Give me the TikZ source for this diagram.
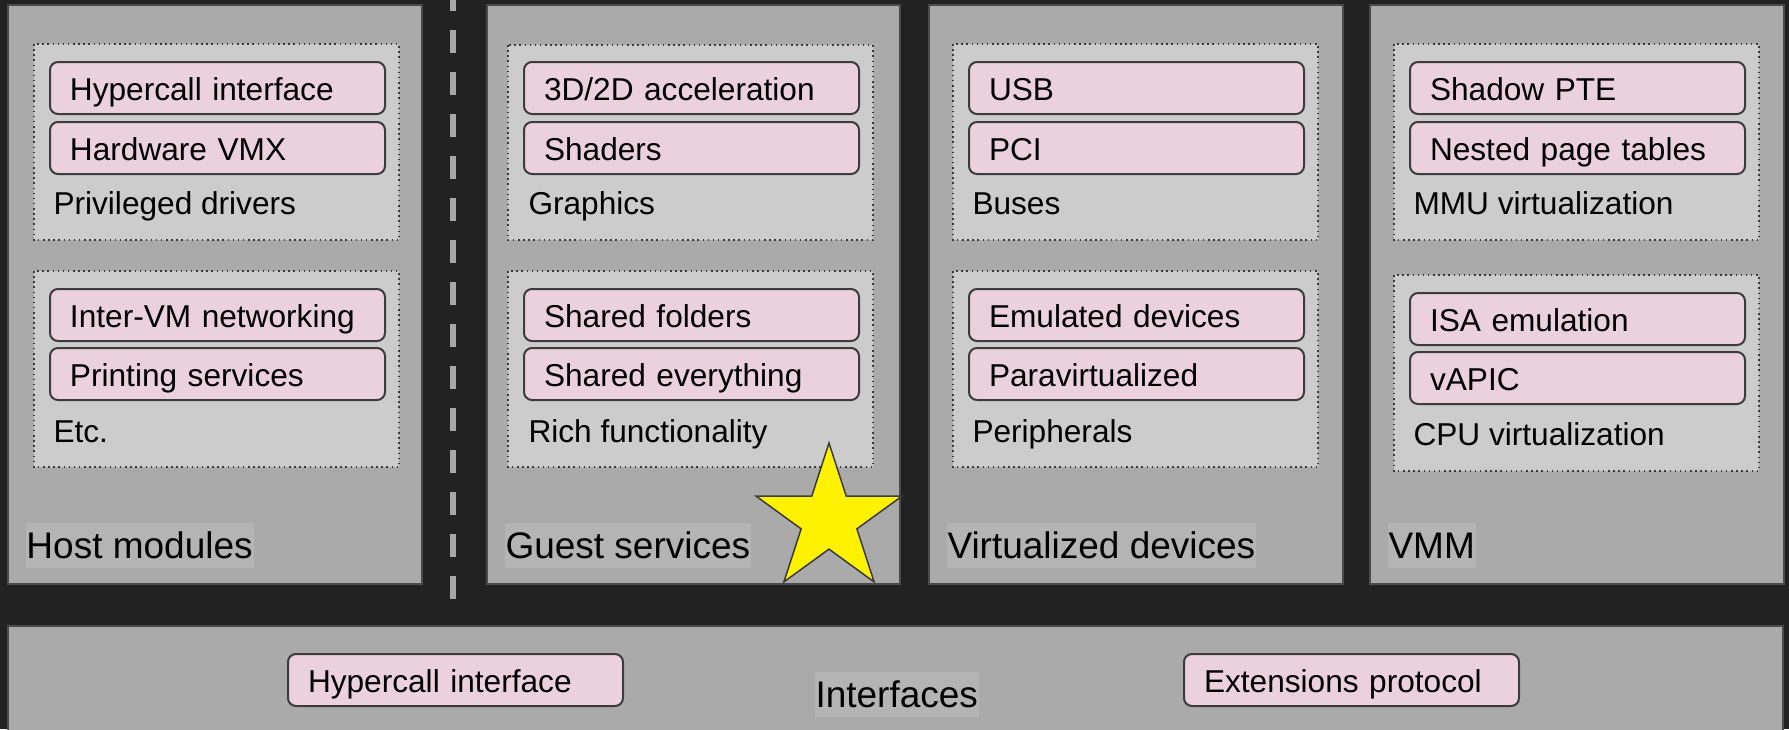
\documentclass[tikz,border=0pt]{standalone}
\usepackage{fontspec}
\setmainfont{Liberation Sans}
\usetikzlibrary{shapes.geometric}
\definecolor{bgdark}{HTML}{222222}
\definecolor{panelc}{HTML}{AAAAAA}
\definecolor{paneledge}{HTML}{4A4A4A}
\definecolor{dotfill}{HTML}{CCCCCC}
\definecolor{dotedge}{HTML}{3A3A3A}
\definecolor{pinkc}{HTML}{EAD1DC}
\definecolor{pinkedge}{HTML}{3C3C3C}
\definecolor{lblbg}{HTML}{B4B4B4}
\definecolor{dashc}{HTML}{A8A8A8}
\definecolor{staredge}{HTML}{3A3A3A}
\newcommand{\fsmall}{\fontsize{12.65}{15}\selectfont}
\newcommand{\fbig}{\fontsize{14.8}{17}\selectfont}
\begin{document}
\begin{tikzpicture}[x=0.4pt,y=-0.4pt,
  panel/.style={fill=panelc,draw=paneledge,line width=0.5pt},
  dotbox/.style={fill=dotfill,draw=dotedge,line width=0.6pt,dash pattern=on 0.6pt off 1.45pt},
  pinkbox/.style={anchor=north west,fill=pinkc,draw=pinkedge,line width=0.8pt,rounded corners=3.2pt,
    inner xsep=8pt,inner ysep=0pt,text height=15.2pt,text depth=5.6pt,text width=118pt,align=left,font=\fsmall},
  sublbl/.style={anchor=base west,inner sep=0pt,font=\fsmall},
  collbl/.style={anchor=base west,fill=lblbg,inner xsep=0.4pt,inner ysep=0pt,text height=14pt,text depth=4pt,font=\fbig},
  dashline/.style={draw=dashc,line width=2.4pt,dash pattern=on 9.2pt off 7.6pt}
]
\useasboundingbox (0,0) rectangle (1789,729);
\clip (0,0) rectangle (1789,729);
\fill[bgdark] (0,0) rectangle (1789,729);

% dashed separator
\coordinate (dtop) at (453,-12);
\coordinate (dbot) at (453,599);
\draw[dashline] (dtop) -- (dbot);

% column 1
\begin{scope}[shift={(8,0)}]
\path[panel] (0,5) rectangle (414,584);
\path[dotbox] (26,44) rectangle (391,240);
\node[pinkbox] (h1) at (41,61) {Hypercall interface};
\node[pinkbox] (h2) at (41,121) {Hardware VMX};
\node[sublbl] (hl1) at (45,214) {Privileged drivers};
\path[dotbox] (26,271) rectangle (391,467);
\node[pinkbox] (h3) at (41,288) {Inter-VM networking};
\node[pinkbox] (h4) at (41,347) {Printing services};
\node[sublbl] (hl2) at (45,442) {Etc.};
\node[collbl] (hmod) at (17,558) {Host modules};
\end{scope}

% column 2
\begin{scope}[shift={(487,0)}]
\path[panel] (0,5) rectangle (413,584);
\path[dotbox] (21,45) rectangle (386,240);
\node[pinkbox] (g1) at (36,61) {3D/2D acceleration};
\node[pinkbox] (g2) at (36,121) {Shaders};
\node[sublbl] (gl1) at (41,214) {Graphics};
\path[dotbox] (21,271) rectangle (386,467);
\node[pinkbox] (g3) at (36,288) {Shared folders};
\node[pinkbox] (g4) at (36,347) {Shared everything};
\node[sublbl] (gl2) at (41,442) {Rich functionality};
\node[collbl] (gsvc) at (17,558) {Guest services};
\end{scope}

% column 3
\begin{scope}[shift={(929,0)}]
\path[panel] (0,5) rectangle (414,584);
\path[dotbox] (24,44) rectangle (389,240);
\node[pinkbox] (v1) at (39,61) {USB};
\node[pinkbox] (v2) at (39,121) {PCI};
\node[sublbl] (vl1) at (43,214) {Buses};
\path[dotbox] (24,271) rectangle (389,467);
\node[pinkbox] (v3) at (39,288) {Emulated devices};
\node[pinkbox] (v4) at (39,347) {Paravirtualized};
\node[sublbl] (vl2) at (43,442) {Peripherals};
\node[collbl] (vdev) at (17,558) {Virtualized devices};
\end{scope}

% column 4
\begin{scope}[shift={(1370,0)}]
\path[panel] (0,5) rectangle (414,584);
\path[dotbox] (24,44) rectangle (389,240);
\node[pinkbox] (m1) at (39,61) {Shadow PTE};
\node[pinkbox] (m2) at (39,121) {Nested page tables};
\node[sublbl] (ml1) at (43,214) {MMU virtualization};
\path[dotbox] (24,275) rectangle (389,471);
\node[pinkbox] (m3) at (39,292) {ISA emulation};
\node[pinkbox] (m4) at (39,351) {vAPIC};
\node[sublbl] (ml2) at (43,445) {CPU virtualization};
\node[collbl] (vmm) at (17,558) {VMM};
\end{scope}

% star
\node[star,star points=5,star point ratio=2.618,minimum size=61.4pt,inner sep=0pt,
  fill=yellow,draw=staredge,line width=0.6pt] (star) at (829,519.8) {};

% bottom panel
\path[panel] (8,626) rectangle (1783,760);
\node[pinkbox] (bi1) at (287,653) {Hypercall interface};
\node[pinkbox] (bi2) at (1183,653) {Extensions protocol};
\node[collbl] (intf) at (814,707) {Interfaces};
\end{tikzpicture}
\end{document}
